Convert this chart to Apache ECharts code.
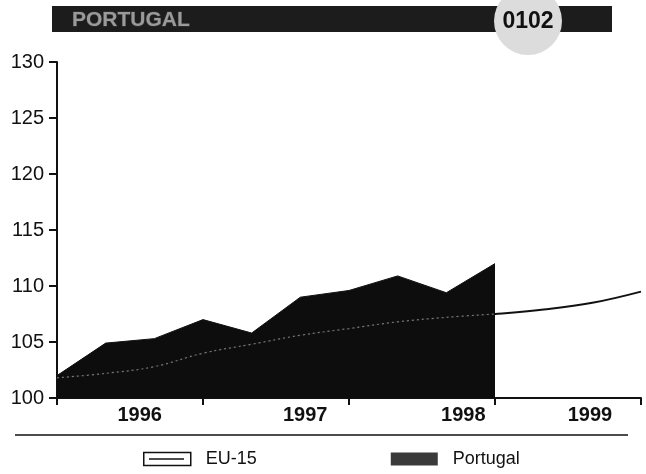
<!DOCTYPE html>
<html>
<head>
<meta charset="utf-8">
<script src="https://cdn.jsdelivr.net/npm/echarts@6/dist/echarts.min.js"></script>
<style>
  html, body { margin: 0; padding: 0; background: #fff; }
  #chart { width: 646px; height: 474px; }
</style>
</head>
<body>
<div id="chart"></div>
<script>
// 4-monthly points, 1996-1999 (index 0..12)
var years = ['1996', '1997', '1998', '1999'];
var yearLabelAt = [1.7, 5.1, 8.35, 10.95];
var steps = [0, 1, 2, 3, 4, 5, 6, 7, 8, 9, 10, 11, 12];
var eu15 = [101.8, 102.2, 102.8, 104.0, 104.8, 105.6, 106.2, 106.8, 107.2, 107.5, 107.9, 108.5, 109.5];
var portugal = [102.0, 104.9, 105.3, 107.0, 105.8, 109.0, 109.6, 110.9, 109.4, 112.0];

var chart = echarts.init(document.getElementById('chart'));

var font = '"Liberation Sans", Arial, sans-serif';

function pairs(arr) {
  return arr.map(function (v, i) { return [steps[i], v]; });
}

var option = {
  animation: false,
  grid: { left: 57, right: 5, top: 62, bottom: 76 },
  xAxis: [
    {
      type: 'value',
      min: 0,
      max: 12,
      interval: 3,
      axisLine: { lineStyle: { color: '#111', width: 2 } },
      axisTick: { show: true, length: 7, lineStyle: { color: '#111', width: 2 } },
      axisLabel: { show: false },
      splitLine: { show: false }
    },
    {
      type: 'value',
      min: 0,
      max: 12,
      position: 'bottom',
      axisLine: { show: false },
      axisTick: { show: false },
      splitLine: { show: false },
      axisLabel: {
        customValues: yearLabelAt,
        formatter: function (v) { return years[yearLabelAt.indexOf(v)]; },
        margin: 7,
        color: '#111',
        fontFamily: font,
        fontSize: 20,
        fontWeight: 'bold'
      }
    }
  ],
  yAxis: {
    type: 'value',
    min: 100,
    max: 130,
    interval: 5,
    axisLine: { show: true, lineStyle: { color: '#111', width: 2 } },
    axisTick: { show: true, length: 8, lineStyle: { color: '#111', width: 2 } },
    axisLabel: { margin: 13, color: '#111', fontFamily: font, fontSize: 20 },
    splitLine: { show: false }
  },
  legend: {
    left: 143,
    top: 450,
    padding: 0,
    itemWidth: 47,
    itemHeight: 13,
    itemGap: 134,
    textStyle: { color: '#111', fontFamily: font, fontSize: 18, padding: [0, 0, 0, 10] },
    data: [
      { name: 'EU-15', icon: 'rect', itemStyle: { color: '#fff', borderColor: '#111', borderWidth: 1.5 } },
      { name: 'Portugal', icon: 'rect', itemStyle: { color: '#3a3a3a' } }
    ]
  },
  series: [
    {
      name: 'Portugal',
      type: 'line',
      data: pairs(portugal),
      symbol: 'none',
      lineStyle: { color: '#111', width: 1 },
      itemStyle: { color: '#3a3a3a' },
      areaStyle: { color: '#0d0d0d', opacity: 1, origin: 'start' },
      z: 2
    },
    {
      name: 'EU-15',
      type: 'line',
      smooth: 0.4,
      data: pairs(eu15),
      symbol: 'none',
      lineStyle: { color: '#111', width: 2 },
      itemStyle: { color: '#fff', borderColor: '#111' },
      z: 3
    },
    {
      // EU-15 trace seen through the dark Portugal area
      name: 'EU-15 (inside)',
      type: 'line',
      smooth: 0.4,
      data: pairs(eu15.slice(0, portugal.length)),
      symbol: 'none',
      lineStyle: { color: '#777', width: 1.2, type: [2, 3] },
      z: 4
    }
  ],
  graphic: [
    // header bar
    { type: 'rect', shape: { x: 52, y: 6, width: 560, height: 26 }, style: { fill: '#1c1c1c' }, z: 10 },
    { type: 'text', style: { x: 72, y: 20, text: 'PORTUGAL', fill: '#9a9a9a', stroke: '#3a3a3a', lineWidth: 1,
        font: 'bold 21px ' + font, textVerticalAlign: 'middle' }, z: 11 },
    { type: 'circle', shape: { cx: 528, cy: 21, r: 34 }, style: { fill: '#dcdcdc' }, z: 11 },
    { type: 'text', style: { x: 528, y: 22, text: '0102', fill: '#111', font: 'bold 23px ' + font,
        textAlign: 'center', textVerticalAlign: 'middle' }, z: 12 },
    // separator
    { type: 'line', shape: { x1: 15, y1: 435, x2: 628, y2: 435 }, style: { stroke: '#111', lineWidth: 1.5 }, z: 10 },
    // inner stroke of EU-15 legend icon
    { type: 'line', shape: { x1: 149, y1: 459, x2: 184, y2: 459 }, style: { stroke: '#111', lineWidth: 1.5 }, z: 20 }
  ]
};

chart.setOption(option);
</script>
</body>
</html>
